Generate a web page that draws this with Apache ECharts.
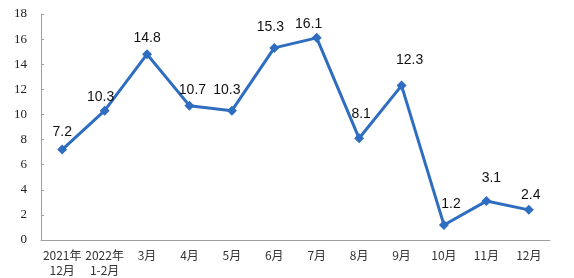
<!DOCTYPE html>
<html><head><meta charset="utf-8">
<script src="https://cdn.jsdelivr.net/npm/echarts@6/dist/echarts.min.js"></script>
<style>html,body{margin:0;padding:0;background:#fff}#c{width:574px;height:278px}</style>
</head><body><div id="c"></div>
<script>
var categories = ['2021年\n12月','2022年\n1-2月','3月','4月','5月','6月','7月','8月','9月','10月','11月','12月'];
var values = [7.2,10.3,14.8,10.7,10.3,15.3,16.1,8.1,12.3,1.2,3.1,2.4];
var yTicks = [0,2,4,6,8,10,12,14,16,18];
// label placement offsets (style only)
var labelOffsets = [[0,-17],[-4,-14],[0,-16],[3,-16],[-5,-21],[-4,-21],[-8,-14],[2,-24],[8,-25],[7,-21],[5,-23],[2,-15]];
var chart = echarts.init(document.getElementById('c'));
chart.setOption({
  animation:false,
  grid:{left:41,right:24,top:14,bottom:36},
  xAxis:{type:'category',data:categories,boundaryGap:true,
    axisLine:{lineStyle:{color:'#a0a0a0',width:1}},
    axisTick:{inside:true,length:4,lineStyle:{color:'#a0a0a0'}},
    axisLabel:{color:'#333',fontSize:12,fontFamily:'Noto Sans CJK SC',lineHeight:15,margin:8,interval:0}},
  yAxis:{type:'value',min:yTicks[0],max:yTicks[yTicks.length-1],interval:2,
    axisLine:{show:true,lineStyle:{color:'#a0a0a0'}},
    axisTick:{show:true,inside:true,length:3,lineStyle:{color:'#a0a0a0'}},splitLine:{show:false},
    axisLabel:{color:'#222',fontSize:13,fontFamily:'Liberation Serif',margin:14}},
  series:[{type:'line',symbol:'diamond',symbolSize:10,
    data:values.map(function(v,i){return {value:v,label:{offset:labelOffsets[i]}};}),
    lineStyle:{color:'#2e6dbf',width:3},itemStyle:{color:'#2e6dbf'},
    label:{show:true,position:'inside',color:'#111',fontSize:14,fontFamily:'Liberation Sans'}}]
});
</script></body></html>
